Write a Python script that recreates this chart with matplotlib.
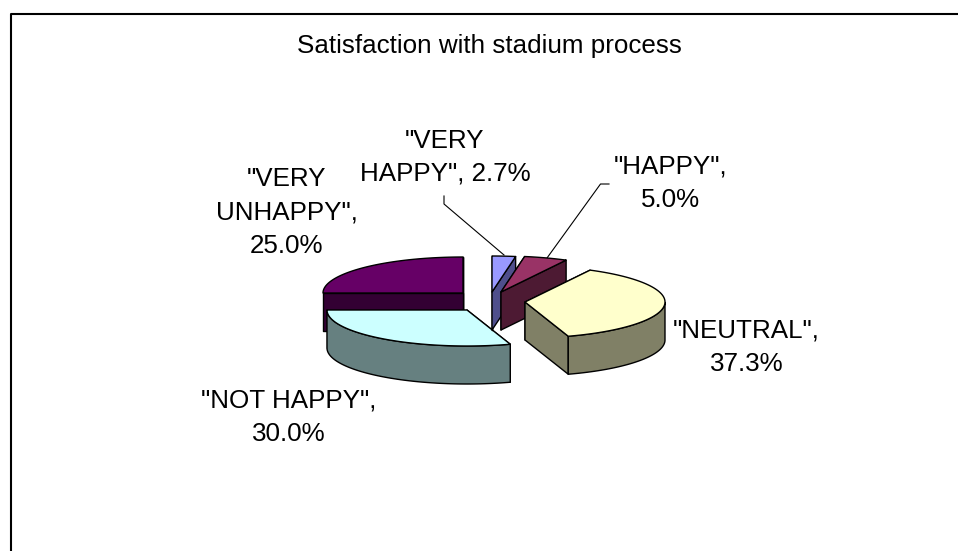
import numpy as np
import matplotlib
matplotlib.use('Agg')
import matplotlib.pyplot as plt
from matplotlib.patches import Polygon

labels = ['"VERY\nHAPPY", 2.7%', '"HAPPY",\n5.0%', '"NEUTRAL",\n37.3%', '"NOT HAPPY",\n30.0%', '"VERY\nUNHAPPY",\n25.0%']
values = [2.7, 5.0, 37.3, 30.0, 25.0]
tops = ['#9999FF', '#993366', '#FFFFCC', '#CCFFFF', '#660066']
sides = ['#4F4F8C', '#4D1A33', '#808066', '#668080', '#330033']

# apex of each exploded slice, in pixels
apex = [(492, 292), (501, 292), (525, 302), (467, 310), (463, 293)]
# x centre and baseline of the last line
label_pos = [(445, 181), (670.5, 207), (746.5, 371), (289, 441), (286.5, 253)]
RX, RY, DEPTH = 140, 36, 38
draw_order = [4, 3, 0, 1, 2]

plt.rcParams['font.family'] = ['Liberation Sans', 'DejaVu Sans']
fig = plt.figure(figsize=(9.58, 5.51), dpi=100)
ax = fig.add_axes([0, 0, 1, 1])
ax.set_xlim(0, 958)
ax.set_ylim(551, 0)
ax.axis('off')


def rim(c, a):
    # a = clockwise angle from 12 o'clock
    return np.column_stack([c[0] + RX * np.sin(a), c[1] - RY * np.cos(a)])


def poly(pts, color, z):
    ax.add_patch(Polygon(pts, closed=True, facecolor=color, edgecolor='black', lw=1.0, zorder=z, joinstyle='round'))


edges = np.concatenate([[0], np.cumsum(values)]) / 100 * 2 * np.pi
down = np.array([0, DEPTH])
z = 2
for i in draw_order:
    c = np.array(apex[i], dtype=float)
    a = np.linspace(edges[i], edges[i + 1], 80)
    arc = rim(c, a)
    # the two cut faces, back one first
    faces = []
    for p in (arc[0], arc[-1]):
        faces.append(np.array([c, p, p + down, c + down]))
    faces.sort(key=lambda f: f[:, 1].mean())
    for f in faces:
        poly(f, sides[i], z)
        z += 1
    # outer wall, only the front half of the ellipse shows
    front = arc[(a >= np.pi / 2) & (a <= 3 * np.pi / 2)]
    if len(front) > 1:
        poly(np.vstack([front, front[::-1] + down]), sides[i], z)
        z += 1
    poly(np.vstack([c, arc]), tops[i], z)
    z += 1

# leader lines
ax.plot([444, 444, 504], [196, 204, 255], color='black', lw=0.8, zorder=1)
ax.plot([547, 600.5, 609], [258, 184, 184], color='black', lw=0.8, zorder=1)

for lab, (x, y) in zip(labels, label_pos):
    ax.text(x, y, lab, ha='center', va='baseline', fontsize=18.7, color='black', linespacing=1.5, zorder=50)

ax.text(489, 53, 'Satisfaction with stadium process', ha='center', va='baseline', fontsize=18.7, color='black')

# chart frame, only top and left are inside the crop
ax.plot([11, 11, 958], [551, 13.5, 13.5], color='black', lw=1.5, zorder=1)

fig.savefig('out.png', dpi=100)
